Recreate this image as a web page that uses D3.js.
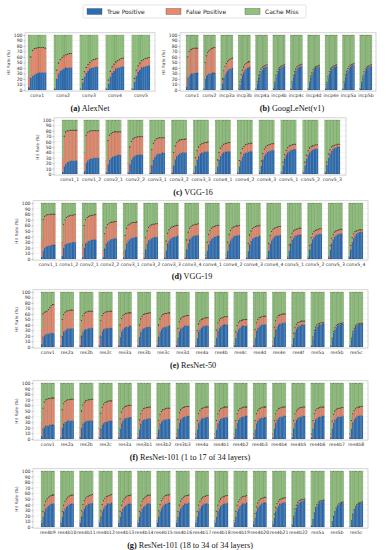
<!DOCTYPE html>
<html>
<head>
<meta charset="utf-8">
<script src="https://cdn.jsdelivr.net/npm/d3@7"></script>
<style>
  body { margin: 0; background: #fff; }
  svg text { font-family: "DejaVu Sans", sans-serif; }
</style>
</head>
<body>
<script>
// ---- data: hit rate = true positive + false positive, cache miss = 100 - hit ----
var yTicks = [0, 10, 20, 30, 40, 50, 60, 70, 80, 90, 100];
var legendNames = ["True Positive", "False Positive", "Cache Miss"];

var alexLayers = ["conv1", "conv2", "conv3", "conv4", "conv5"];
var alexTP = [
  [5,22,26,28,30,31,32,32,32,32],
  [2,20,30,35,37,39,40,40,41,41],
  [1,14,24,31,35,38,40,41,42,42],
  [2,12,24,31,35,38,40,41,42,43],
  [2,15,26,33,37,40,42,43,44,45]
];
var alexHit = [
  [24,60,72,75,76,77,77,77,77,76],
  [3,36,49,55,59,62,64,65,66,66],
  [2,19,33,41,46,50,53,55,56,57],
  [3,18,34,42,47,51,53,55,57,58],
  [3,21,36,44,49,53,55,57,58,59]
];

var googLayers = ["conv1", "conv2", "incp3a", "incp3b", "incp4a", "incp4b", "incp4c", "incp4d", "incp4e", "incp5a", "incp5b"];
var googTP = [
  [6,22,26,28,29,30,30,31,31,31],
  [2,20,26,28,29,30,30,31,31,31],
  [1,12,22,28,32,35,37,38,39,40],
  [1,10,20,27,32,36,38,40,41,42],
  [2,12,22,29,34,37,40,41,42,43],
  [2,12,23,30,35,38,41,42,43,44],
  [2,13,23,30,35,39,41,42,43,44],
  [2,12,22,29,34,38,40,41,42,43],
  [2,12,22,30,35,38,41,42,43,44],
  [2,13,24,31,36,40,42,44,45,46],
  [2,12,22,30,35,39,41,42,43,44]
];
var googHit = [
  [26,60,70,73,74,75,76,76,76,76],
  [3,50,62,68,71,73,75,76,77,77],
  [2,20,35,43,48,52,54,56,57,58],
  [2,15,28,36,42,46,48,50,51,52],
  [3,15,26,33,38,41,43,44,45,46],
  [3,14,26,33,38,41,43,44,45,46],
  [3,15,26,33,38,42,44,45,46,47],
  [3,14,25,32,37,40,42,43,44,45],
  [3,14,25,33,38,41,43,44,45,46],
  [3,15,27,34,39,43,45,46,47,48],
  [3,14,25,33,38,41,43,44,45,46]
];

var vgg16Layers = ["conv1_1", "conv1_2", "conv2_1", "conv2_2", "conv3_1", "conv3_2", "conv3_3", "conv4_1", "conv4_2", "conv4_3", "conv5_1", "conv5_2", "conv5_3"];
var vgg16TP = [
  [4,14,19,22,23,24,24,25,25,25],
  [5,20,25,27,28,29,30,30,30,30],
  [3,18,26,30,32,33,34,35,35,35],
  [3,18,27,31,33,35,36,36,36,36],
  [2,16,26,32,35,37,38,38,39,39],
  [2,16,27,33,36,38,39,40,40,40],
  [2,15,26,33,37,39,40,41,41,42],
  [2,14,26,33,37,39,41,41,42,42],
  [2,14,25,32,37,39,40,41,42,42],
  [2,15,27,34,38,41,42,43,44,44],
  [3,16,28,35,40,42,44,45,46,46],
  [3,16,28,35,40,43,45,46,47,47],
  [3,17,30,38,43,46,48,49,50,50]
];
var vgg16Hit = [
  [30,70,78,80,80,81,81,81,81,81],
  [40,72,77,79,80,80,80,80,80,80],
  [25,62,72,75,77,78,78,78,78,78],
  [20,50,60,65,67,68,69,69,69,69],
  [15,45,57,62,65,66,67,67,67,67],
  [12,40,52,58,61,63,64,64,64,65],
  [8,30,43,50,54,56,57,58,58,59],
  [6,26,40,48,52,55,56,57,58,58],
  [6,25,39,47,51,54,55,56,57,57],
  [5,24,38,46,50,53,54,55,56,56],
  [5,22,36,44,49,52,53,54,55,55],
  [5,22,35,43,48,51,52,53,54,54],
  [5,22,37,45,50,52,53,54,55,55]
];

var vgg19Layers = ["conv1_1", "conv1_2", "conv2_1", "conv2_2", "conv3_1", "conv3_2", "conv3_3", "conv3_4", "conv4_1", "conv4_2", "conv4_3", "conv4_4", "conv5_1", "conv5_2", "conv5_3", "conv5_4"];
var vgg19TP = [
  [4,15,20,22,23,24,24,25,25,25],
  [5,20,25,27,28,29,29,30,30,30],
  [3,20,27,30,32,33,34,34,35,35],
  [3,18,27,31,33,35,36,36,37,37],
  [2,17,27,32,35,37,38,38,39,39],
  [2,16,27,32,35,37,38,39,39,39],
  [2,15,27,33,36,38,39,40,40,41],
  [2,16,28,34,38,40,41,42,42,43],
  [2,15,26,32,36,38,40,40,41,41],
  [2,15,27,33,37,40,41,42,42,43],
  [2,14,25,32,36,38,39,40,40,41],
  [2,15,27,33,37,40,41,42,42,43],
  [2,15,27,34,38,41,42,43,43,44],
  [2,16,28,35,39,42,43,44,45,45],
  [2,16,28,35,40,42,44,45,45,46],
  [3,17,30,37,42,45,47,48,48,49]
];
var vgg19Hit = [
  [35,70,76,78,79,79,80,80,80,80],
  [30,62,70,74,76,77,78,78,79,79],
  [25,60,70,74,76,77,78,78,79,79],
  [15,45,56,61,63,65,66,66,67,67],
  [12,42,55,60,62,64,65,65,65,66],
  [10,38,50,56,59,61,62,62,63,63],
  [8,32,46,52,55,57,58,59,60,60],
  [8,34,48,55,58,60,61,62,62,63],
  [7,30,44,51,55,57,58,59,60,60],
  [7,30,44,51,55,57,58,59,59,60],
  [6,28,43,50,54,56,58,59,59,60],
  [6,28,42,49,53,55,56,57,58,58],
  [5,25,39,46,50,52,53,54,55,55],
  [5,24,38,45,49,51,52,53,54,54],
  [5,24,37,44,48,50,51,52,53,53],
  [5,24,38,45,49,50,51,52,52,52]
];

var res50Layers = ["conv1", "res2a", "res2b", "res2c", "res3a", "res3b", "res3c", "res3d", "res4a", "res4b", "res4c", "res4d", "res4e", "res4f", "res5a", "res5b", "res5c"];
var res50TP = [
  [5,18,21,23,24,24,25,25,25,25],
  [3,20,27,30,32,33,33,34,34,34],
  [3,20,27,31,32,33,34,34,35,35],
  [3,20,28,31,33,34,34,35,35,35],
  [3,18,28,32,35,36,37,37,38,38],
  [3,18,27,32,34,35,36,36,37,37],
  [3,18,28,32,35,36,37,37,38,38],
  [3,17,28,33,35,37,38,38,39,39],
  [3,16,27,32,35,37,38,38,39,39],
  [3,17,29,34,37,39,40,40,41,41],
  [3,16,27,32,35,37,38,38,38,39],
  [3,17,29,34,37,39,40,40,41,41],
  [3,18,31,37,40,42,43,44,44,45],
  [2,16,28,33,36,38,39,40,40,41],
  [2,15,27,33,37,39,40,41,42,42],
  [2,14,26,32,36,39,40,41,42,42],
  [2,14,26,32,36,39,40,41,42,42]
];
var res50Hit = [
  [30,60,63,64,65,68,72,75,77,77],
  [20,50,59,63,65,66,66,67,67,67],
  [18,48,57,61,63,64,65,65,65,65],
  [18,48,57,61,63,64,64,65,65,65],
  [12,40,52,57,59,61,61,62,62,62],
  [12,40,51,56,59,60,61,61,62,62],
  [12,40,51,56,59,60,61,61,62,62],
  [10,34,46,51,54,55,56,57,57,57],
  [8,30,42,47,50,51,52,53,53,53],
  [8,31,44,49,52,53,54,55,55,55],
  [7,28,39,44,47,48,49,50,50,50],
  [8,32,44,50,53,54,55,56,56,56],
  [10,36,48,54,57,58,59,60,60,60],
  [5,25,36,41,44,45,46,47,47,47],
  [3,18,30,36,40,42,43,44,44,44],
  [3,16,28,35,39,41,42,43,43,44],
  [3,16,28,34,38,41,42,42,43,43]
];

var res101aLayers = ["conv1", "res2a", "res2b", "res2c", "res3a", "res3b1", "res3b2", "res3b3", "res4a", "res4b1", "res4b2", "res4b3", "res4b4", "res4b5", "res4b6", "res4b7", "res4b8"];
var res101aTP = [
  [5,18,21,23,24,24,25,25,25,25],
  [3,20,27,30,31,32,32,33,33,33],
  [3,20,27,30,31,32,32,33,33,33],
  [3,18,25,28,30,31,31,32,32,32],
  [3,18,28,33,36,37,38,38,39,39],
  [3,17,27,32,34,35,36,36,37,37],
  [3,17,27,31,33,34,35,35,36,36],
  [3,18,29,34,37,39,40,40,41,41],
  [3,17,28,33,36,37,38,38,39,39],
  [3,17,28,33,36,37,38,38,39,39],
  [3,18,29,34,37,39,40,40,41,41],
  [3,17,28,33,36,37,38,38,39,39],
  [3,18,29,34,37,39,40,40,41,41],
  [3,18,29,34,37,39,40,40,41,41],
  [3,18,29,34,37,39,40,40,41,41],
  [3,18,29,34,37,39,40,40,40,41],
  [3,18,30,35,38,40,41,42,42,42]
];
var res101aHit = [
  [28,55,66,70,71,72,72,73,73,73],
  [20,52,63,67,69,70,70,71,71,71],
  [20,50,61,65,68,69,70,70,71,71],
  [18,46,57,62,65,66,67,68,68,68],
  [10,36,48,54,57,58,59,60,60,60],
  [10,34,45,51,54,55,56,56,57,57],
  [10,33,44,49,52,53,54,55,55,55],
  [10,35,47,52,55,56,57,58,58,58],
  [9,33,45,51,54,55,56,57,57,57],
  [9,33,45,51,54,55,56,57,57,57],
  [9,33,45,51,54,55,56,57,57,57],
  [9,33,45,51,54,55,56,57,57,57],
  [9,33,45,51,54,55,56,57,57,57],
  [9,33,45,50,53,55,56,56,57,57],
  [9,33,45,51,54,55,56,57,57,57],
  [9,32,44,50,53,54,55,55,56,56],
  [9,33,45,51,54,56,57,57,58,58]
];

var res101bLayers = ["res4b9", "res4b10", "res4b11", "res4b12", "res4b13", "res4b14", "res4b15", "res4b16", "res4b17", "res4b18", "res4b19", "res4b20", "res4b21", "res4b22", "res5a", "res5b", "res5c"];
var res101bTP = [
  [8,18,27,32,36,38,40,41,42,42],
  [8,18,27,32,36,38,40,41,41,42],
  [8,18,28,33,37,39,41,42,42,43],
  [8,19,28,33,37,39,41,42,42,43],
  [8,18,27,32,36,38,40,41,41,42],
  [8,18,27,32,36,38,40,41,42,42],
  [8,19,28,33,37,40,41,42,43,43],
  [8,18,28,33,37,39,41,42,42,43],
  [8,18,28,33,37,39,41,42,42,42],
  [8,18,28,33,37,39,41,42,42,43],
  [8,18,28,33,37,39,41,42,42,43],
  [6,17,28,34,38,40,42,43,43,44],
  [6,17,28,34,38,41,42,43,44,44],
  [4,16,28,35,40,43,45,46,47,48],
  [2,12,24,32,38,42,44,46,46,47],
  [1,8,18,27,33,37,40,42,43,44],
  [1,10,22,30,35,39,41,42,43,44]
];
var res101bHit = [
  [12,28,39,46,50,53,55,56,57,57],
  [12,28,39,46,50,53,55,56,57,57],
  [12,29,40,47,51,54,55,56,57,58],
  [12,29,40,47,51,54,55,56,57,58],
  [12,28,39,46,50,53,55,56,56,57],
  [12,28,39,46,50,53,55,56,57,57],
  [12,29,40,47,51,54,56,57,57,58],
  [12,28,39,46,50,53,55,56,56,57],
  [12,28,39,46,50,53,54,55,56,56],
  [12,28,39,46,50,53,54,55,56,56],
  [12,28,39,45,49,52,54,55,55,56],
  [9,24,36,43,47,50,51,52,53,53],
  [9,23,35,42,46,49,50,51,52,52],
  [5,19,32,39,44,47,48,49,49,50],
  [2,13,25,34,40,44,46,47,47,48],
  [1,9,19,28,34,38,41,43,44,45],
  [1,11,23,31,36,40,42,43,44,45]
];

// ---- layout ----
var W = 387, H = 550;
var colTP = "#2a6cb5", colFP = "#e8896b", colCM = "#8fc27a";

var svg = d3.select("body").append("svg")
  .attr("width", W).attr("height", H);

// legend
var leg = svg.append("g");
leg.append("rect").attr("x", 83).attr("y", 5).attr("width", 223).attr("height", 13)
  .attr("rx", 1.5).attr("fill", "#fff").attr("stroke", "#d0d0d0").attr("stroke-width", 0.6);
var legX = [87, 166, 245];
var legCols = [colTP, colFP, colCM];
legendNames.forEach(function(name, i) {
  leg.append("rect").attr("x", legX[i]).attr("y", 8.5).attr("width", 15).attr("height", 6)
    .attr("fill", legCols[i]).attr("stroke", "#555").attr("stroke-width", 0.4);
  leg.append("text").attr("x", legX[i] + 20).attr("y", 13.8)
    .attr("font-size", 6).attr("fill", "#222").text(name);
});

var panels = [
  {layers: alexLayers, tp: alexTP, hit: alexHit, fL: 25, fR: 155, bL: 28, bR: 150, y100: 35, y0: 90, cap: "(a)", name: " AlexNet", cx: 90, cy: 108},
  {layers: googLayers, tp: googTP, hit: googHit, fL: 180, fR: 376, bL: 186, bR: 372, y100: 35, y0: 90, cap: "(b)", name: " GoogLeNet(v1)", cx: 292, cy: 108},
  {layers: vgg16Layers, tp: vgg16TP, hit: vgg16Hit, fL: 54, fR: 346, bL: 62, bR: 340, y100: 120, y0: 174, cap: "(c)", name: " VGG-16", cx: 193, cy: 192},
  {layers: vgg19Layers, tp: vgg19TP, hit: vgg19Hit, fL: 33, fR: 368, bL: 41, bR: 363, y100: 203, y0: 259, cap: "(d)", name: " VGG-19", cx: 192, cy: 276},
  {layers: res50Layers, tp: res50TP, hit: res50Hit, fL: 33, fR: 368, bL: 41, bR: 363, y100: 292, y0: 347, cap: "(e)", name: " ResNet-50", cx: 193, cy: 365},
  {layers: res101aLayers, tp: res101aTP, hit: res101aHit, fL: 33, fR: 368, bL: 41, bR: 363, y100: 383, y0: 439, cap: "(f)", name: " ResNet-101 (1 to 17 of 34 layers)", cx: 190, cy: 457},
  {layers: res101bLayers, tp: res101bTP, hit: res101bHit, fL: 33, fR: 368, bL: 41, bR: 363, y100: 471, y0: 527, cap: "(g)", name: " ResNet-101 (18 to 34 of 34 layers)", cx: 190, cy: 545}
];

panels.forEach(function(p) {
  var g = svg.append("g");
  var n = p.layers.length;
  var groupW = (p.bR - p.bL) / (n + (n - 1) * 0.42);

  var y = d3.scaleLinear().domain([0, 100]).range([p.y0, p.y100]);
  var x = d3.scaleBand().domain(p.layers).range([p.bL, p.bR])
    .paddingInner(1 - groupW / ((p.bR - p.bL - groupW) / (n - 1))).paddingOuter(0);
  var sub = d3.scaleBand().domain(d3.range(10)).range([0, x.bandwidth()]);

  // frame and grid
  g.append("rect").attr("x", p.fL).attr("y", y(104)).attr("width", p.fR - p.fL)
    .attr("height", y(-2) - y(104)).attr("fill", "#fff");
  g.selectAll(".grid").data(yTicks).enter().append("line")
    .attr("x1", p.fL).attr("x2", p.fR)
    .attr("y1", function(d) { return y(d); }).attr("y2", function(d) { return y(d); })
    .attr("stroke", "#e6e6e6").attr("stroke-width", 0.4);

  // bars
  p.layers.forEach(function(layer, gi) {
    var gg = g.append("g").attr("transform", "translate(" + x(layer) + ",0)");
    var rows = d3.range(10).map(function(i) {
      return {i: i, tp: p.tp[gi][i], hit: p.hit[gi][i]};
    });
    var parts = [
      {c: colTP, lo: function(d) { return 0; }, hi: function(d) { return d.tp; }},
      {c: colFP, lo: function(d) { return d.tp; }, hi: function(d) { return d.hit; }},
      {c: colCM, lo: function(d) { return d.hit; }, hi: function(d) { return 100; }}
    ];
    parts.forEach(function(part) {
      gg.selectAll(null).data(rows).enter().append("rect")
        .attr("x", function(d) { return sub(d.i); })
        .attr("width", sub.bandwidth())
        .attr("y", function(d) { return y(part.hi(d)); })
        .attr("height", function(d) { return Math.max(0, y(part.lo(d)) - y(part.hi(d))); })
        .attr("fill", part.c)
        .attr("stroke", "rgba(30,40,30,0.35)").attr("stroke-width", 0.3);
    });
    // markers on top of the hit region
    gg.selectAll(null).data(rows.slice(1)).enter().append("rect")
      .attr("x", function(d) { return sub(d.i) + sub.bandwidth() * 0.2; })
      .attr("width", sub.bandwidth() * 0.6)
      .attr("y", function(d) { return y(d.hit) - 0.5; })
      .attr("height", 0.9)
      .attr("fill", "#222");
  });

  g.append("rect").attr("x", p.fL).attr("y", y(104)).attr("width", p.fR - p.fL)
    .attr("height", y(-2) - y(104)).attr("fill", "none")
    .attr("stroke", "#b8b8b8").attr("stroke-width", 0.6);

  // axes
  var yAxis = g.append("g").attr("transform", "translate(" + p.fL + ",0)")
    .call(d3.axisLeft(y).tickValues(yTicks).tickSize(1.5).tickPadding(1));
  yAxis.select(".domain").remove();
  yAxis.selectAll("line").attr("stroke", "#666").attr("stroke-width", 0.4);
  yAxis.selectAll("text").attr("font-size", 4.6).attr("fill", "#333")
    .attr("font-family", "DejaVu Sans");

  var xAxis = g.append("g").attr("transform", "translate(0," + y(-2) + ")")
    .call(d3.axisBottom(x).tickSize(0).tickPadding(2.5));
  xAxis.select(".domain").remove();
  xAxis.selectAll("text").attr("font-size", 4.6).attr("fill", "#333")
    .attr("font-family", "DejaVu Sans");

  g.append("text")
    .attr("transform", "translate(" + (p.fL - 15) + "," + ((p.y0 + p.y100) / 2) + ") rotate(-90)")
    .attr("text-anchor", "middle").attr("font-size", 4.2).attr("fill", "#333")
    .text("Hit Rate (%)");

  // caption
  var cap = g.append("text").attr("x", p.cx).attr("y", p.cy + 3)
    .attr("text-anchor", "middle").attr("font-size", 8.2).attr("fill", "#111")
    .style("font-family", "'Liberation Serif', serif");
  cap.append("tspan").attr("font-weight", "bold").text(p.cap);
  cap.append("tspan").text(p.name);
});
</script>
</body>
</html>
